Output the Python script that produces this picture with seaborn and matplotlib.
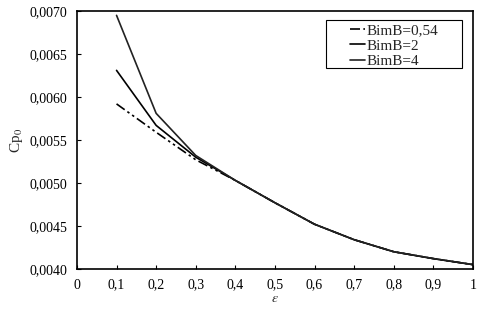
# %%

import pandas as pd
import matplotlib.pyplot as plt
import seaborn as sns

# %%

eps = [0.1, 0.2, 0.3, 0.4, 0.5, 0.6, 0.7, 0.8, 0.9, 1.0]

cp_054 = [0.00592, 0.00559, 0.00527, 0.00503, 0.00477, 0.00452,
          0.00434, 0.00420, 0.00412, 0.00405]
cp_2 = [0.00631, 0.00567, 0.00530, 0.00503, 0.00477, 0.00452,
        0.00434, 0.00420, 0.00412, 0.00405]
cp_4 = [0.00695, 0.00581, 0.00532, 0.00503, 0.00477, 0.00452,
        0.00434, 0.00420, 0.00412, 0.00405]

labels = ['BimB=0,54', 'BimB=2', 'BimB=4']

x_ticks = [0, 0.1, 0.2, 0.3, 0.4, 0.5, 0.6, 0.7, 0.8, 0.9, 1]
x_ticklabels = ['0', '0,1', '0,2', '0,3', '0,4', '0,5',
                '0,6', '0,7', '0,8', '0,9', '1']
y_ticks = [0.0040, 0.0045, 0.0050, 0.0055, 0.0060, 0.0065, 0.0070]
y_ticklabels = ['0,0040', '0,0045', '0,0050', '0,0055',
                '0,0060', '0,0065', '0,0070']

# %%

df = pd.DataFrame({
    'eps': eps * 3,
    'cp': cp_054 + cp_2 + cp_4,
    'serie': [labels[0]] * len(eps) + [labels[1]] * len(eps) + [labels[2]] * len(eps),
})

# %%

sns.set_style('white')
plt.rcParams['font.family'] = ['Liberation Serif', 'DejaVu Serif']
plt.rcParams['mathtext.fontset'] = 'stix'

fig = plt.figure(figsize=(4.87, 3.16), dpi=100)
ax = fig.add_axes([0.158, 0.149, 0.813, 0.816])

sns.lineplot(data=df, x='eps', y='cp', hue='serie', style='serie',
             palette=['black', 'black', '#222222'],
             dashes={labels[0]: (6, 2, 1.5, 2, 1.5, 2),
                     labels[1]: '',
                     labels[2]: ''},
             linewidth=1.2, ax=ax)

ax.set_xlim(0, 1)
ax.set_ylim(0.0040, 0.0070)
ax.set_xticks(x_ticks)
ax.set_xticklabels(x_ticklabels)
ax.set_yticks(y_ticks)
ax.set_yticklabels(y_ticklabels)
ax.tick_params(direction='in', length=3, width=0.8, labelsize=10,
               colors='black', pad=7)
ax.xaxis.set_ticks_position('bottom')
ax.yaxis.set_ticks_position('left')

for s in ax.spines.values():
    s.set_color('black')
    s.set_linewidth(1.2)

ax.set_xlabel(r'$\varepsilon$', fontsize=10, labelpad=0)
ax.set_ylabel(r'Cp$_0$', fontsize=11, labelpad=3)

# legend entries sit right of centre in a wide box
ax.legend(loc='upper left', bbox_to_anchor=(0.69, 0.952),
          borderaxespad=0, borderpad=0, fontsize=11, handlelength=1.0,
          handletextpad=0.05, labelspacing=0.12, frameon=False)
ax.add_patch(plt.Rectangle((0.629, 0.779), 0.343, 0.186,
                           transform=ax.transAxes, fill=False,
                           edgecolor='black', linewidth=0.8))

plt.savefig('out.png', format='png', dpi=100)

# %%
